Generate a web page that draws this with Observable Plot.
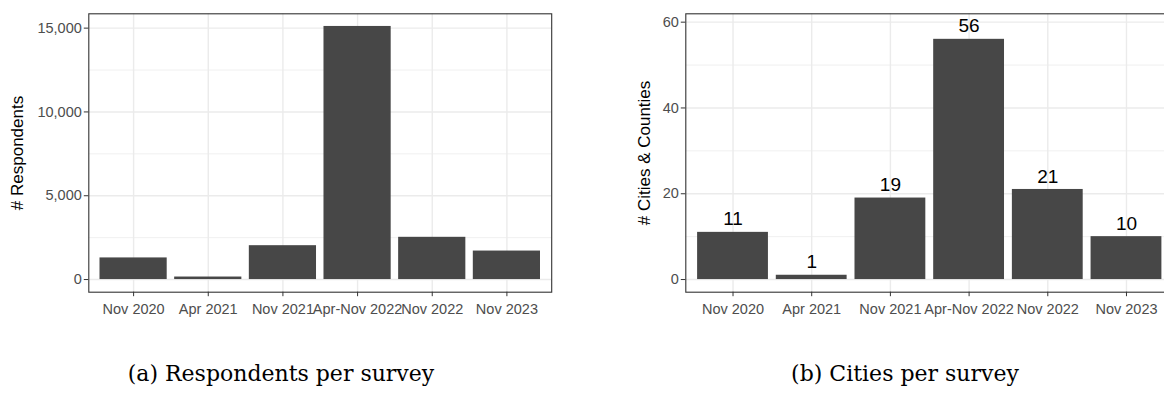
<!DOCTYPE html>
<html>
<head>
<meta charset="utf-8">
<script src="https://cdn.jsdelivr.net/npm/d3@7"></script>
<script src="https://cdn.jsdelivr.net/npm/@observablehq/plot@0.6"></script>
<style>
  html, body { margin: 0; padding: 0; background: #fff; width: 1164px; height: 396px; overflow: hidden; }
  #wrap { position: relative; width: 1164px; height: 396px; overflow: hidden; }
  .panel { position: absolute; top: 0; }
  .panel svg { max-width: none !important; display: block; }
  .caption {
    position: absolute; top: 361px;
    font-family: "DejaVu Serif", serif; font-size: 22px; line-height: 26px;
    white-space: nowrap; transform: translateX(-50%); color: #000;
  }
</style>
</head>
<body>
<div id="wrap">
  <div class="panel" id="left" style="left:0px;width:560px"></div>
  <div class="panel" id="right" style="left:597px;width:585px"></div>
  <div class="caption" style="left:281px">(a) Respondents per survey</div>
  <div class="caption" style="left:905px">(b) Cities per survey</div>
</div>
<script>
// Survey waves (x categories)
const surveys = ["Nov 2020", "Apr 2021", "Nov 2021", "Apr-Nov 2022", "Nov 2022", "Nov 2023"];

// Number of respondents per survey wave
const respondents = [1290, 150, 2020, 15100, 2520, 1700];

// Number of cities & counties per survey wave
const cities = [11, 1, 19, 56, 21, 10];

// Y-axis ticks
const respondentTicks = [0, 5000, 10000, 15000];
const respondentMinor = [2500, 7500, 12500];
const cityTicks = [0, 20, 40, 60];
const cityMinor = [10, 30, 50];

const HEIGHT = 330;
const PANEL_TOP = 13.3;
const PANEL_BOTTOM = 291.7;
const MARGIN_LEFT = 88.3;

function surveyChart({values, yDomain, major, minor, format, title, titleOffset, panelWidth, width, labels}) {
  const rows = surveys.map((s, i) => ({survey: s, n: values[i]}));
  return Plot.plot({
    width,
    height: HEIGHT,
    marginLeft: MARGIN_LEFT,
    marginRight: width - MARGIN_LEFT - panelWidth,
    marginTop: PANEL_TOP,
    marginBottom: HEIGHT - PANEL_BOTTOM,
    style: {fontFamily: "'Liberation Sans', Arial, sans-serif", fontSize: "14.5px", background: "#fff", maxWidth: "none"},
    x: {type: "band", domain: surveys, paddingInner: 0.1, paddingOuter: 0.15, round: false, label: null},
    y: {domain: yDomain, label: null},
    marks: [
      Plot.ruleY(minor, {stroke: "#EBEBEB", strokeWidth: 0.75}),
      Plot.ruleY(major, {stroke: "#EBEBEB", strokeWidth: 1.4}),
      Plot.ruleX(surveys, {x: d => d, stroke: "#EBEBEB", strokeWidth: 1.4}),
      Plot.barY(rows, {x: "survey", y: "n", fill: "#474747"}),
      labels
        ? Plot.text(rows, {x: "survey", y: "n", text: d => String(d.n), dy: -13, lineAnchor: "middle", fontSize: 19, fill: "#000"})
        : null,
      Plot.axisX({tickSize: 4.5, tickPadding: 7, stroke: "#333", fill: "#4D4D4D", fontSize: 14.5, label: null}),
      Plot.axisY({ticks: major, tickFormat: format, tickSize: 4.5, tickPadding: 2.5, stroke: "#333", fill: "#4D4D4D", fontSize: 14.5, label: null}),
      Plot.text([title], {text: d => d, frameAnchor: "left", rotate: -90, dx: -titleOffset, textAnchor: "middle", lineAnchor: "top", fontSize: 17, fill: "#000"}),
      Plot.frame({stroke: "#333", strokeWidth: 1.1})
    ]
  });
}

document.getElementById("left").append(surveyChart({
  values: respondents,
  yDomain: [-755, 15855],
  major: respondentTicks,
  minor: respondentMinor,
  format: d3.format(","),
  title: "# Respondents",
  titleOffset: 78,
  panelWidth: 462.9,
  width: 560,
  labels: false
}));

document.getElementById("right").append(surveyChart({
  values: cities,
  yDomain: [-2.95, 61.95],
  major: cityTicks,
  minor: cityMinor,
  format: d3.format("d"),
  title: "# Cities & Counties",
  titleOffset: 48,
  panelWidth: 487.9,
  width: 585,
  labels: true
}));
</script>
</body>
</html>
